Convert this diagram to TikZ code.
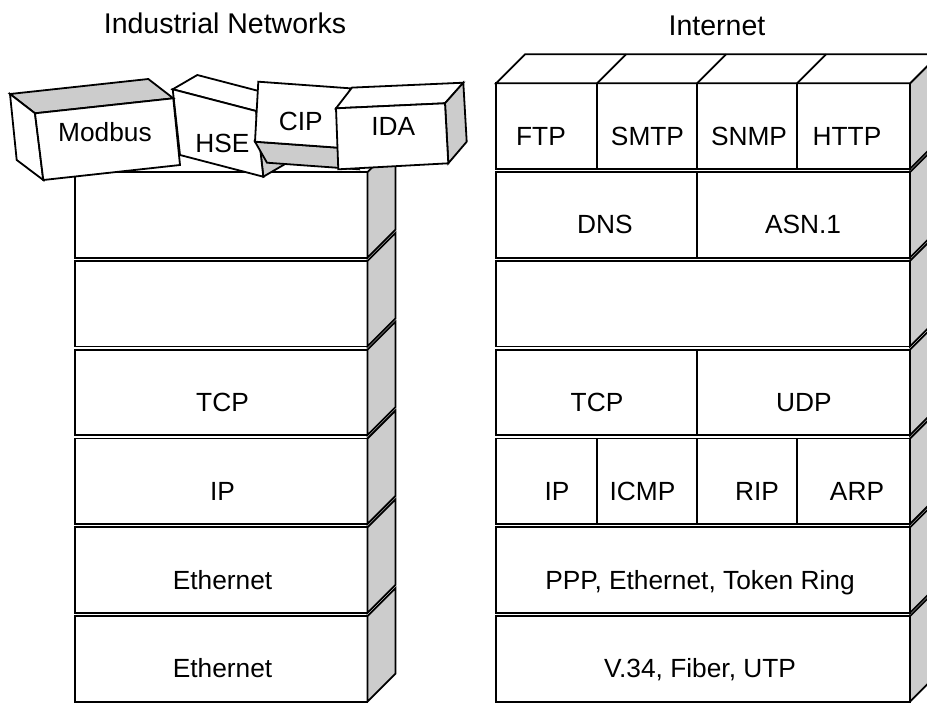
\documentclass[tikz,border=0pt]{standalone}
\usepackage{fontspec}
\setmainfont{Liberation Sans}
\definecolor{sidegray}{RGB}{204,204,204}
\begin{document}
\begin{tikzpicture}[x=1pt,y=-1pt,line width=1.8pt,
  face/.style={fill=white,draw=black},
  shade/.style={fill=sidegray,draw=black},
  lbl/.style={anchor=base,inner sep=0pt,font=\fontsize{26.3}{30}\selectfont},
  ttl/.style={anchor=base,inner sep=0pt,font=\fontsize{28.5}{32}\selectfont}]
\useasboundingbox (0,0) rectangle (927,702);
\clip (0,0) rectangle (927,702);

% ---------- titles ----------
\node[ttl] (title-ind) at (225,33.3) {Industrial Networks};
\node[ttl] (title-net) at (717,35) {Internet};

% ---------- Internet stack (7 layers) ----------
\foreach \k in {0,...,6}{
  \pgfmathsetmacro\T{83.3+88.8*\k}
  \filldraw[face] (496,\T) rectangle (910,\T+85.5);
  \filldraw[shade] (910,\T) -- ++(29,-29) -- ++(0,85.5) -- ++(-29,29) -- cycle;
}
% top face with cell partitions
\filldraw[face] (496,83.3) -- ++(29,-29) -- (939,54.3) -- (910,83.3) -- cycle;
\foreach \x in {597,697,797} \draw (\x,83.3) -- ++(29,-29);
% vertical partitions
\foreach \x in {597,697,797} \draw (\x,83.3) -- ++(0,85.5);
\draw (697,172.1) -- ++(0,85.5);
\draw (697,349.7) -- ++(0,85.5);
\foreach \x in {597,697,797} \draw (\x,438.5) -- ++(0,85.5);

\node[lbl] (ftp)  at (541,145) {FTP};
\node[lbl] (smtp) at (647.5,145) {SMTP};
\node[lbl] (snmp) at (749,145) {SNMP};
\node[lbl] (http) at (847,145) {HTTP};
\node[lbl] (dns)  at (605,233.8) {DNS};
\node[lbl] (asn)  at (803,233.8) {ASN.1};
\node[lbl] (tcpR) at (597,411.4) {TCP};
\node[lbl] (udp)  at (804,411.4) {UDP};
\node[lbl] (ipR)  at (557,500.2) {IP};
\node[lbl] (icmp) at (642.5,500.2) {ICMP};
\node[lbl] (rip)  at (757,500.2) {RIP};
\node[lbl] (arp)  at (857,500.2) {ARP};
\node[lbl] (ppp)  at (700,589) {PPP, Ethernet, Token Ring};
\node[lbl] (phy)  at (700,677.8) {V.34, Fiber, UTP};

% ---------- Industrial stack (6 layers) ----------
\foreach \k in {1,...,6}{
  \pgfmathsetmacro\T{83.3+88.8*\k}
  \filldraw[face] (75,\T) rectangle (367.5,\T+85.5);
  \filldraw[shade] (367.5,\T) -- ++(28,-28) -- ++(0,85.5) -- ++(-28,28) -- cycle;
}
\node[lbl] (tcpL) at (222.5,411.4) {TCP};
\node[lbl] (ipL)  at (222.5,500.2) {IP};
\node[lbl] (eth1) at (222.5,589) {Ethernet};
\node[lbl] (eth2) at (222.5,677.8) {Ethernet};

% ---------- application blocks resting on top ----------
% HSE
\filldraw[face]  (172.7,89.3) -- (197.3,75) -- (280.6,96.7) -- (256,111) -- cycle;
\filldraw[shade] (256,111) -- (280.6,96.7) -- (287.9,162.4) -- (263.3,176.7) -- cycle;
\filldraw[face]  (172.7,89.3) -- (256,111) -- (263.3,176.7) -- (180,155) -- cycle;
\node[lbl] (hse) at (222.5,152.3) {HSE};

% Modbus
\filldraw[shade] (10,94) -- (148.3,79) -- (173.3,98.3) -- (35,113.3) -- cycle;
\filldraw[face]  (10,94) -- (35,113.3) -- (43.3,180) -- (16.7,160) -- cycle;
\filldraw[face]  (35,113.3) -- (173.3,98.3) -- (180,165) -- (43.3,180) -- cycle;
\node[lbl] (modbus) at (105,141.7) {Modbus};

% CIP
\filldraw[shade] (255,141.7) -- (346.7,148.3) -- (358.7,169.3) -- (267,162.7) -- cycle;
\filldraw[face]  (258.3,81.7) -- (350,88.3) -- (346.7,148.3) -- (255,141.7) -- cycle;
\node[lbl] (cip) at (300.8,130) {CIP};

% IDA
\filldraw[face]  (336,108.3) -- (352,87.6) -- (463.3,82.7) -- (445,103.3) -- cycle;
\filldraw[shade] (445,103.3) -- (463.3,82.7) -- (466.7,141.7) -- (448.3,163.3) -- cycle;
\filldraw[face]  (336,108.3) -- (445,103.3) -- (448.3,163.3) -- (338.3,169.3) -- cycle;
\node[lbl] (ida) at (393.3,135) {IDA};
\end{tikzpicture}
\end{document}
